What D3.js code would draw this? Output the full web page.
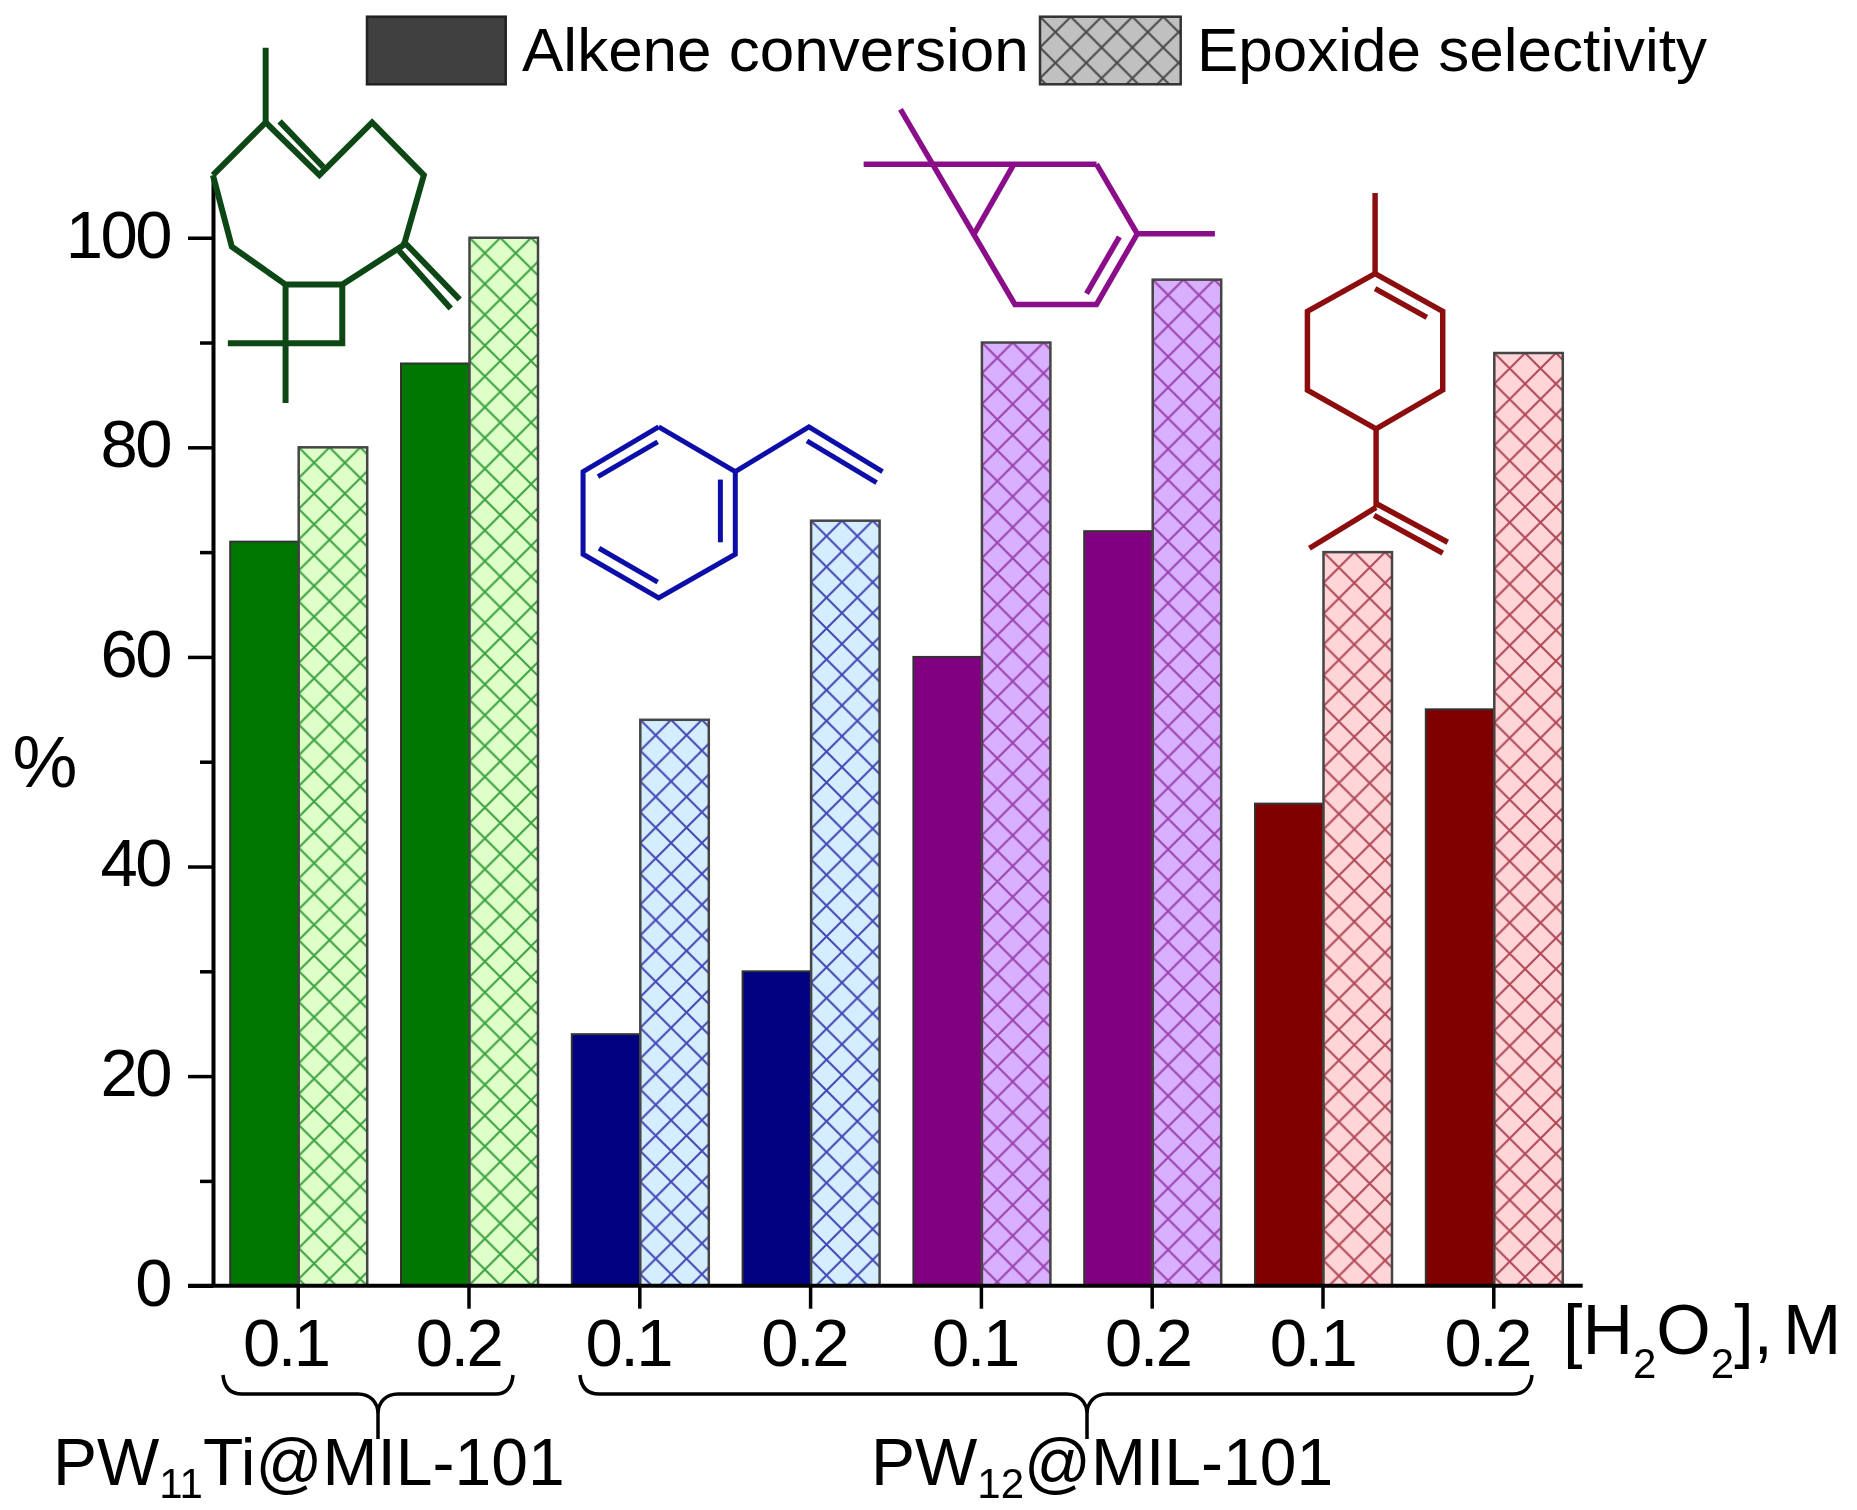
<!DOCTYPE html>
<html>
<head>
<meta charset="utf-8">
<script src="https://cdn.jsdelivr.net/npm/d3@7"></script>
<style>
	body { margin: 0; background: #fff; }
	text { font-family: "Liberation Sans", Arial, sans-serif; fill: #000; }
</style>
</head>
<body>
<div id="visualization"></div>
<script>
//chart values
var concentrations = ["0.1", "0.2", "0.1", "0.2", "0.1", "0.2", "0.1", "0.2"];
var alkeneConversion = [71, 88, 24, 30, 60, 72, 46, 55];
var epoxideSelectivity = [80, 100, 54, 73, 90, 96, 70, 89];
var substrates = ["caryophyllene", "caryophyllene", "styrene", "styrene", "carene", "carene", "limonene", "limonene"];
var yMajorTicks = [0, 20, 40, 60, 80, 100];
var yMinorTicks = [10, 30, 50, 70, 90];

//colors per substrate
var solidColors = { caryophyllene: "#007800", styrene: "#000080", carene: "#800080", limonene: "#800000" };
var lightColors = { caryophyllene: "#dfffc8", styrene: "#d5eeff", carene: "#d8b0ff", limonene: "#ffd5d8" };
var hatchColors = { caryophyllene: "#1f8f2a", styrene: "#2c2ca5", carene: "#8f2f9f", limonene: "#a03040" };

//molecule drawings, as polylines in picture pixels
var molecules = [
	{ color: "#0f4716", width: 6, lines: [
		[[267, 48], [267, 123]],
		[[214, 176], [267, 123], [321, 176], [374, 123], [426, 176], [406, 246], [344, 286], [287, 286], [233, 248], [214, 176]],
		[[281, 122], [325, 168]],
		[[405, 242], [462, 301]],
		[[401, 252], [453, 310]],
		[[287, 286], [287, 405]],
		[[344, 286], [344, 345], [229, 345]]
	]},
	{ color: "#0c0ca8", width: 5, lines: [
		[[662, 429], [739, 474], [739, 557], [662, 601], [586, 557], [586, 474], [662, 429]],
		[[601, 479], [661, 444]],
		[[724, 482], [724, 545]],
		[[602, 551], [661, 585]],
		[[739, 474], [813, 429], [887, 474]],
		[[811, 443], [881, 485]]
	]},
	{ color: "#8a0e8a", width: 5.5, lines: [
		[[868, 165], [1102, 165]],
		[[905, 110], [1020, 306], [1102, 306], [1143, 235], [1102, 165]],
		[[1019, 165], [979, 235]],
		[[1143, 235], [1221, 235]],
		[[1125, 238], [1092, 295]]
	]},
	{ color: "#8c1010", width: 5.5, lines: [
		[[1382, 194], [1382, 275]],
		[[1382, 275], [1450, 313], [1450, 392], [1383, 431], [1314, 392], [1314, 313], [1382, 275]],
		[[1382, 290], [1434, 319]],
		[[1383, 431], [1383, 510]],
		[[1383, 510], [1316, 551]],
		[[1383, 506], [1455, 545]],
		[[1381, 518], [1450, 556]]
	]}
];

//group braces under the axis
var braces = [
	"M223,1375 C224,1387 230,1394 242,1394 L358,1394 C370,1394 378,1402 378,1414 L378,1439 M378,1414 C378,1402 386,1394 398,1394 L496,1394 C506,1394 512,1387 513,1375",
	"M580,1375 C581,1387 587,1394 599,1394 L1067,1394 C1079,1394 1087,1402 1087,1414 L1087,1439 M1087,1414 C1087,1402 1095,1394 1107,1394 L1513,1394 C1524,1394 1531,1387 1532,1375"
];

//nudges of the hand placed tick labels
var tickLabelShift = [-12, -10, -11, -6, -6, -4, -10, -6];

//initialize
var width = 1857, height = 1510;
var barWidth = 68.5, tileSize = 30.8, tickFont = 67, legendFont = 62;

var svg = d3.select("#visualization").append("svg")
	.attr("width", width)
	.attr("height", height)
	.style("display", "block");
var defs = svg.append("defs");

//the reference is a soft upscaled raster
defs.append("filter")
	.attr("id", "soft")
	.attr("filterUnits", "userSpaceOnUse")
	.attr("x", 0).attr("y", 0).attr("width", width).attr("height", height)
	.append("feGaussianBlur").attr("stdDeviation", 0.6);

var root = svg.append("g").attr("filter", "url(#soft)");

//set scales
var xScale = d3.scalePoint().domain(d3.range(concentrations.length)).range([297.7, 1493.3]);
var yScale = d3.scaleLinear().domain([0, 105.7]).range([1285.7, 178]);

//hatch tile anchored on the top left of its bar
var addHatch = function(id, fill, stroke, x, y) {
	var p = defs.append("pattern")
		.attr("id", id)
		.attr("patternUnits", "userSpaceOnUse")
		.attr("patternTransform", "translate(" + x + "," + y + ")")
		.attr("width", tileSize)
		.attr("height", tileSize);
	p.append("rect").attr("width", tileSize).attr("height", tileSize).attr("fill", fill);
	p.append("path")
		.attr("d", "M0,0L" + tileSize + "," + tileSize + "M" + tileSize + ",0L0," + tileSize)
		.attr("stroke", stroke)
		.attr("stroke-opacity", 0.85)
		.attr("stroke-width", 2);
};
epoxideSelectivity.forEach(function(d, i) {
	var k = substrates[i];
	addHatch("hatch-" + i, lightColors[k], hatchColors[k], xScale(i) + 1, yScale(d));
});
addHatch("hatch-legend", "#c0c0c0", "#333", 1040, 16.7);

//draw bars
root.append("g").selectAll("rect")
	.data(alkeneConversion)
	.join("rect")
	.attr("x", function(d, i) { return xScale(i) + 1 - barWidth; })
	.attr("y", function(d) { return yScale(d); })
	.attr("width", barWidth)
	.attr("height", function(d) { return yScale(0) - yScale(d); })
	.attr("fill", function(d, i) { return solidColors[substrates[i]]; })
	.attr("stroke", "#333")
	.attr("stroke-width", 2);

root.append("g").selectAll("rect")
	.data(epoxideSelectivity)
	.join("rect")
	.attr("x", function(d, i) { return xScale(i) + 1; })
	.attr("y", function(d) { return yScale(d); })
	.attr("width", barWidth)
	.attr("height", function(d) { return yScale(0) - yScale(d); })
	.attr("fill", function(d, i) { return "url(#hatch-" + i + ")"; })
	.attr("stroke", "#444")
	.attr("stroke-width", 2.5);

//y axis
var yAxis = root.append("g")
	.attr("transform", "translate(213,0)")
	.call(d3.axisLeft(yScale).tickValues(yMajorTicks).tickSize(25).tickSizeOuter(0).tickPadding(18));
var yAxisMinor = root.append("g")
	.attr("transform", "translate(213,0)")
	.call(d3.axisLeft(yScale).tickValues(yMinorTicks).tickSize(13).tickSizeOuter(0).tickFormat(""));
yAxisMinor.select(".domain").remove();
yAxis.selectAll("text")
	.attr("y", -2)
	.attr("font-size", tickFont)
	.attr("letter-spacing", -2.5)
	.style("font-family", "inherit")
	.style("fill", "#000");
root.selectAll(".tick line").attr("stroke", "#000").attr("stroke-width", 3.5);
yAxis.select(".domain").attr("stroke", "#000").attr("stroke-width", 4);

//x axis
var xAxis = root.append("g")
	.attr("transform", "translate(0,1285.7)")
	.call(d3.axisBottom(xScale).tickSize(23).tickFormat(""));
xAxis.select(".domain").remove();
xAxis.selectAll(".tick line").attr("stroke", "#000").attr("stroke-width", 3.5);
root.append("line")
	.attr("x1", 188).attr("x2", 1582.7)
	.attr("y1", yScale(0)).attr("y2", yScale(0))
	.attr("stroke", "#000")
	.attr("stroke-width", 4);

//x tick labels
root.append("g").selectAll("text")
	.data(concentrations)
	.join("text")
	.attr("x", function(d, i) { return xScale(i) + tickLabelShift[i]; })
	.attr("y", 1366)
	.attr("text-anchor", "middle")
	.attr("font-size", tickFont)
	.attr("letter-spacing", -2.5)
	.text(function(d) { return d; });

//y title
root.append("text")
	.attr("x", 45).attr("y", 787)
	.attr("text-anchor", "middle")
	.attr("font-size", 73)
	.text("%");

//x title and group names with subscripts
var subText = function(x, y, size, subSize, drop, parts) {
	var t = root.append("text").attr("x", x).attr("y", y).attr("font-size", size);
	parts.forEach(function(p) {
		t.append("tspan")
			.attr("font-size", p.sub ? subSize : size)
			.attr("dy", p.sub ? drop : (p.back ? -drop : 0))
			.attr("dx", p.dx || 0)
			.text(p.text);
	});
};
subText(1563, 1354, 70, 42, 24, [{ text: "[H" }, { text: "2", sub: true }, { text: "O", back: true }, { text: "2", sub: true }, { text: "],", back: true }, { text: "M", dx: 10 }]);
subText(53, 1485, 66, 42, 13, [{ text: "PW" }, { text: "11", sub: true }, { text: "Ti@MIL-101", back: true }]);
subText(871, 1485, 66, 42, 13, [{ text: "PW" }, { text: "12", sub: true }, { text: "@MIL-101", back: true }]);

//braces
root.append("g").selectAll("path")
	.data(braces)
	.join("path")
	.attr("d", function(d) { return d; })
	.attr("fill", "none")
	.attr("stroke", "#000")
	.attr("stroke-width", 3.5);

//legend
root.append("rect").attr("x", 367).attr("y", 16.7).attr("width", 138.7).attr("height", 67.6)
	.attr("fill", "#404040").attr("stroke", "#222").attr("stroke-width", 2.5);
root.append("text").attr("x", 522).attr("y", 71).attr("font-size", legendFont).text("Alkene conversion");
root.append("rect").attr("x", 1040).attr("y", 16.7).attr("width", 140.7).attr("height", 67.6)
	.attr("fill", "url(#hatch-legend)").attr("stroke", "#333").attr("stroke-width", 2.5);
root.append("text").attr("x", 1197).attr("y", 71).attr("font-size", legendFont).text("Epoxide selectivity");

//molecules
var line = d3.line();
molecules.forEach(function(m) {
	root.append("g")
		.attr("transform", "scale(0.995)")
		.selectAll("path")
		.data(m.lines)
		.join("path")
		.attr("d", line)
		.attr("fill", "none")
		.attr("stroke", m.color)
		.attr("stroke-width", m.width)
		.attr("stroke-linejoin", "miter");
});
</script>
</body>
</html>
